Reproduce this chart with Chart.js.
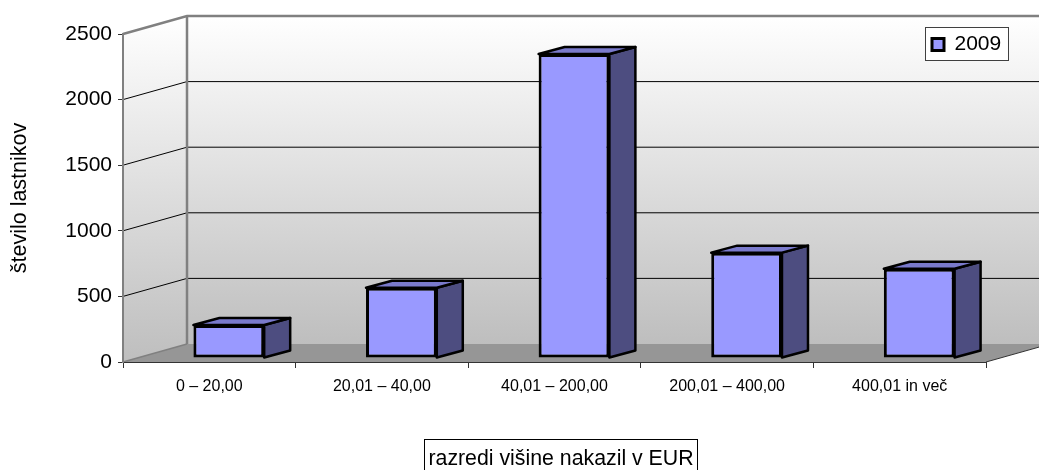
<!DOCTYPE html>
<html><head><meta charset="utf-8">
<style>html,body{margin:0;padding:0;background:#fff}canvas{display:block}</style>
<script src="https://cdn.jsdelivr.net/npm/chart.js@4"></script>
</head><body><canvas id="c" width="1039" height="470"></canvas>
<script>
const categories = ['0 – 20,00','20,01 – 40,00','40,01 – 200,00','200,01 – 400,00','400,01 in več'];
const values2009 = [252, 535, 2317, 803, 680];
const seriesName = '2009';
const yTitle = 'število lastnikov';
const xTitle = 'razredi višine nakazil v EUR';
const FF = '"Liberation Sans", Arial, sans-serif';

const WALL_DX = 64, WALL_DY = 18;
const BAR_SHIFT_X = 19.5, BAR_SHIFT_Y = 4, BAR_DX = 26, BAR_DY = 7;

function poly(ctx, pts){ ctx.beginPath(); pts.forEach((p,i)=> i?ctx.lineTo(p[0],p[1]):ctx.moveTo(p[0],p[1])); ctx.closePath(); }

const scene = {
  id:'scene',
  afterLayout(chart){
    const l = chart.legend;
    l.left = 925; l.right = 1009; l.top = 27; l.bottom = 61; l.width = 84; l.height = 34;
    l.adjustHitBoxes && l.adjustHitBoxes();
  },
  beforeDraw(chart){
    const {ctx, chartArea:a, scales:{y}} = chart;
    const L=a.left,R=a.right,T=y.getPixelForValue(2500),B=y.getPixelForValue(0);
    const g = ctx.createLinearGradient(0,T-WALL_DY,0,B-WALL_DY);
    g.addColorStop(0,'#ffffff'); g.addColorStop(1,'#bebebe');
    ctx.save();
    ctx.fillStyle=g;
    ctx.fillRect(L+WALL_DX,T-WALL_DY,R-L,B-T);
    const g2 = ctx.createLinearGradient(0,T-WALL_DY,0,B);
    g2.addColorStop(0,'#ffffff'); g2.addColorStop(1,'#bebebe');
    ctx.fillStyle=g2;
    poly(ctx,[[L,T],[L+WALL_DX,T-WALL_DY],[L+WALL_DX,B-WALL_DY],[L,B]]); ctx.fill();
    ctx.fillStyle='#969696';
    poly(ctx,[[L,B],[L+WALL_DX,B-WALL_DY],[R+WALL_DX,B-WALL_DY],[R,B]]); ctx.fill();
    ctx.strokeStyle='#000'; ctx.lineWidth=1;
    y.ticks.forEach(t=>{
      if(t.value===0||t.value===2500) return;
      const p=y.getPixelForValue(t.value);
      ctx.beginPath(); ctx.moveTo(L,p); ctx.lineTo(L+WALL_DX,p-WALL_DY); ctx.lineTo(R+WALL_DX,p-WALL_DY); ctx.stroke();
    });
    ctx.strokeStyle='#808080'; ctx.lineWidth=2.5;
    ctx.beginPath(); ctx.moveTo(L,T); ctx.lineTo(L+WALL_DX,T-WALL_DY); ctx.lineTo(R+WALL_DX,T-WALL_DY); ctx.stroke();
    ctx.beginPath(); ctx.moveTo(L+WALL_DX,T-WALL_DY); ctx.lineTo(L+WALL_DX,B-WALL_DY); ctx.stroke();
    ctx.strokeStyle='#333'; ctx.lineWidth=1;
    ctx.beginPath(); ctx.moveTo(R,B); ctx.lineTo(R+WALL_DX,B-WALL_DY); ctx.stroke();
    ctx.strokeStyle='#808080'; ctx.lineWidth=1.5;
    ctx.beginPath(); ctx.moveTo(L,B); ctx.lineTo(L+WALL_DX,B-WALL_DY); ctx.stroke();
    // legend frame
    const l=chart.legend;
    ctx.fillStyle='#fff'; ctx.fillRect(l.left,l.top,l.width,l.height);
    ctx.strokeStyle='#404040'; ctx.lineWidth=1; ctx.strokeRect(l.left+.5,l.top+.5,l.width-1,l.height-1);
    // x title, framed
    ctx.strokeStyle='#000'; ctx.strokeRect(424.5,439.5,273,40);
    ctx.fillStyle='#000'; ctx.font='21.3px '+FF; ctx.textAlign='center'; ctx.textBaseline='alphabetic';
    ctx.fillText(xTitle,561,465);
    ctx.restore();
  },
  beforeDatasetsDraw(chart){
    const {ctx}=chart;
    ctx.save();
    ctx.translate(BAR_SHIFT_X,-BAR_SHIFT_Y);
    ctx.lineWidth=2.5; ctx.lineJoin='round'; ctx.strokeStyle='#000';
    chart.getDatasetMeta(0).data.forEach(b=>{
      const x0=b.x-b.width/2,x1=b.x+b.width/2,t=b.y,bt=b.base;
      ctx.fillStyle='#4d4d80';
      poly(ctx,[[x1,t],[x1+BAR_DX,t-BAR_DY],[x1+BAR_DX,bt-BAR_DY],[x1,bt]]); ctx.fill(); ctx.stroke();
      ctx.fillStyle='#7a7acc';
      poly(ctx,[[x0,t],[x0+BAR_DX,t-BAR_DY],[x1+BAR_DX,t-BAR_DY],[x1,t]]); ctx.fill(); ctx.stroke();
    });
  },
  afterDatasetsDraw(chart){ chart.ctx.restore(); }
};

new Chart(document.getElementById('c'),{
  type:'bar',
  plugins:[scene],
  data:{labels:categories,datasets:[{
    label:seriesName,data:values2009,backgroundColor:'#9999ff',borderColor:'#000',borderWidth:3,borderSkipped:false,
    categoryPercentage:0.41,barPercentage:1,clip:false
  }]},
  options:{
    responsive:false,animation:false,
    layout:{padding:{left:0,right:53,top:34,bottom:0}},
    plugins:{
      tooltip:{enabled:false},
      legend:{position:'chartArea',align:'start',
        labels:{boxWidth:12,boxHeight:12,padding:7,color:'#000',font:{family:FF,size:21}}}
    },
    scales:{
      x:{
        afterFit(s){s.height=108;},
        grid:{drawOnChartArea:false,tickLength:6,color:'#333',offset:true},
        border:{color:'#333',width:1},
        ticks:{color:'#000',padding:9,maxRotation:0,font:{family:FF,size:16}}
      },
      y:{
        min:0,max:2500,
        afterFit(s){s.width=123;},
        grid:{drawOnChartArea:false,tickLength:5,color:'#333'},
        border:{color:'#808080',width:2},
        ticks:{stepSize:500,color:'#000',padding:6,font:{family:FF,size:21},callback:v=>String(v)},
        title:{display:true,text:yTitle,color:'#000',font:{family:FF,size:21.5},padding:{top:7,bottom:0}}
      }
    }
  }
});
</script></body></html>
